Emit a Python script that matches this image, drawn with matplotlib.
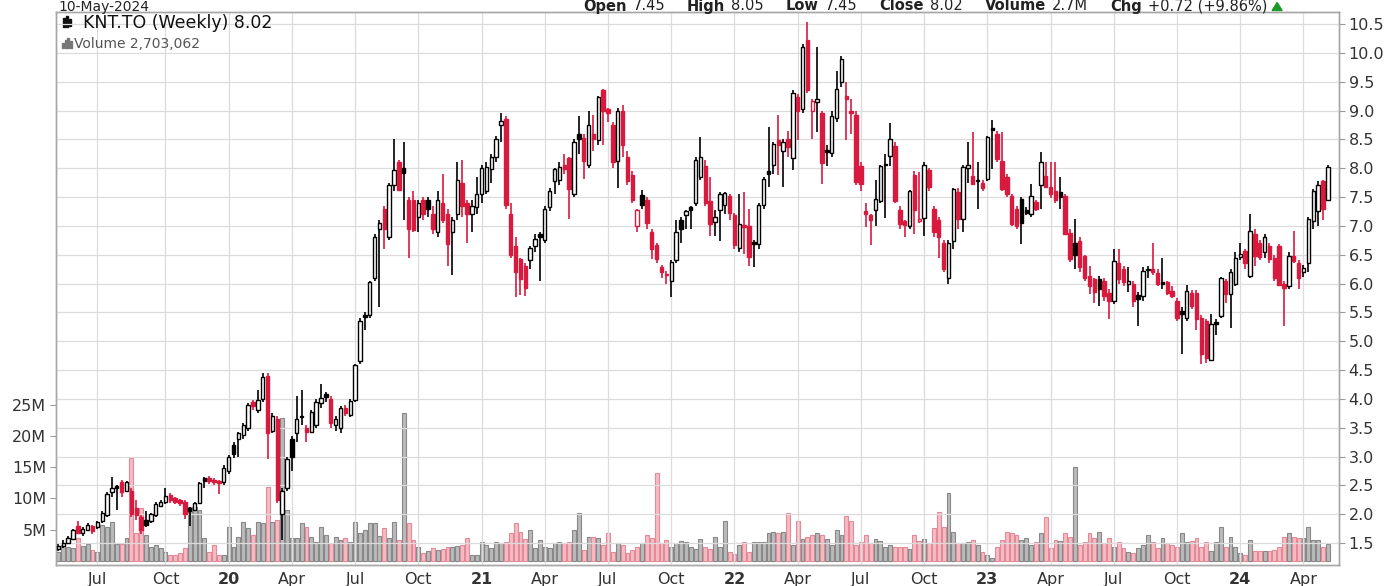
import matplotlib
matplotlib.use("Agg")
import matplotlib.pyplot as plt
from matplotlib.patches import Rectangle, Polygon
import pandas as pd

# weekly OHLC for KNT.TO, May 2019 - May 2024
opens = [
    1.40, 1.45, 1.50, 1.57, 1.80, 1.68, 1.72, 1.80, 1.78, 1.88, 1.98, 2.38, 2.48, 2.55, 2.40, 2.40, 2.10, 1.95, 1.90, 1.88, 1.98, 2.15, 2.22, 2.33, 2.28, 2.24,
    2.22, 2.10, 2.08, 2.20, 2.62, 2.63, 2.60, 2.58, 2.55, 2.75, 3.20, 3.30, 3.38, 3.50, 3.95, 3.80, 4.00, 4.40, 3.45, 3.65, 2.00, 2.45, 3.30, 3.40, 3.70,
    3.50, 3.43, 3.55, 3.92, 4.08, 4.00, 3.55, 3.50, 3.85, 3.72, 3.98, 4.65, 5.45, 5.45, 6.10, 6.95, 7.30, 6.80, 7.70, 8.10, 8.00, 7.45, 7.45, 7.15, 7.45, 7.45,
    7.20, 6.90, 7.40, 7.20, 6.90, 7.20, 7.75, 7.40, 7.20, 7.33, 7.55, 7.60, 7.98, 8.20, 8.75, 8.85, 7.20, 6.65, 6.42, 6.30, 6.40, 6.65, 6.85, 6.75, 7.33,
    7.78, 7.80, 8.05, 8.18, 7.55, 8.60, 8.52, 8.05, 8.60, 8.48, 9.35, 9.02, 8.74, 8.12, 9.00, 8.20, 7.88, 6.99, 7.53, 7.45, 6.89, 6.66, 6.28, 6.17, 6.05, 6.40,
    7.10, 7.18, 7.32, 7.40, 7.85, 8.03, 7.43, 7.07, 7.28, 7.37, 7.52, 7.19, 6.61, 7.02, 7.00, 6.72, 6.68, 7.37, 7.95, 8.06, 8.48, 8.30, 8.51, 8.18, 9.23, 9.02,
    10.23, 8.99, 9.15, 8.96, 8.32, 8.27, 8.87, 9.50, 9.25, 9.00, 8.93, 8.03, 7.25, 7.18, 7.28, 7.43, 8.08, 8.21, 8.39, 7.28, 7.08, 7.00, 7.88, 7.08, 7.13,
    7.96, 7.29, 7.10, 6.71, 6.10, 6.74, 7.58, 7.12, 8.00, 7.87, 7.80, 7.75, 7.81, 8.70, 8.60, 8.13, 7.84, 7.52, 7.29, 7.46, 7.27, 7.20, 7.41, 7.70, 7.87, 7.67,
    7.60, 7.58, 7.52, 6.88, 6.71, 6.74, 6.48, 6.13, 6.07, 6.07, 6.05, 5.84, 5.70, 6.36, 6.25, 6.00, 6.00, 5.80, 5.78, 6.24, 6.25, 6.19, 6.02, 6.02, 5.87,
    5.70, 5.52, 5.40, 5.84, 5.84, 5.41, 5.35, 4.68, 5.33, 5.44, 6.05, 5.82, 5.99, 6.46, 6.57, 6.13, 6.86, 6.71, 6.54, 6.65, 6.45, 6.65, 5.99, 5.96, 6.48, 6.36,
    6.20, 6.36, 7.09, 7.25, 7.78, 7.45,
]
highs = [
    1.48, 1.55, 1.62, 1.75, 1.88, 1.78, 1.85, 1.82, 1.88, 2.05, 2.38, 2.65, 2.50, 2.60, 2.58, 2.45, 2.25, 1.98, 2.05, 2.02, 2.22, 2.25, 2.45, 2.36, 2.30, 2.26,
    2.25, 2.12, 2.22, 2.55, 2.65, 2.66, 2.62, 2.60, 2.85, 3.02, 3.25, 3.42, 3.58, 3.92, 3.98, 4.15, 4.45, 4.45, 3.75, 3.70, 2.45, 3.00, 3.35, 4.05, 4.15,
    3.55, 3.80, 4.00, 4.26, 4.12, 4.05, 3.70, 3.88, 3.90, 4.00, 4.60, 5.40, 5.50, 6.05, 6.85, 7.10, 7.35, 7.75, 8.50, 8.15, 8.45, 7.50, 7.60, 7.45, 7.50, 7.50,
    7.35, 7.60, 7.90, 7.30, 7.15, 8.10, 8.15, 7.45, 7.45, 7.85, 8.05, 8.10, 8.25, 8.55, 8.95, 8.90, 7.40, 6.80, 6.45, 6.35, 6.65, 6.85, 6.90, 7.35, 7.65,
    8.00, 8.10, 8.25, 8.20, 8.50, 8.91, 8.60, 9.00, 8.92, 9.25, 9.38, 9.05, 8.80, 9.05, 9.10, 8.30, 7.95, 7.30, 7.62, 7.50, 6.95, 6.70, 6.32, 6.22, 6.40, 7.10,
    7.15, 7.28, 7.35, 8.20, 8.54, 8.15, 7.85, 7.28, 7.58, 7.58, 7.56, 7.22, 7.55, 7.58, 7.30, 6.75, 7.40, 7.85, 8.72, 8.45, 8.93, 8.50, 8.65, 9.35, 9.28, 10.15,
    10.53, 9.20, 10.10, 9.00, 8.40, 9.00, 9.69, 9.95, 9.50, 9.20, 9.00, 8.10, 7.40, 7.20, 7.79, 8.05, 8.24, 8.78, 8.45, 7.35, 7.10, 7.62, 7.95, 7.94, 8.10,
    8.00, 7.35, 7.15, 6.75, 6.75, 7.66, 7.65, 8.05, 8.45, 8.63, 8.10, 7.80, 8.55, 8.83, 8.65, 8.62, 7.90, 7.55, 7.35, 7.50, 7.32, 7.72, 7.45, 8.28, 8.10, 8.10,
    8.10, 7.85, 7.55, 6.95, 7.12, 6.80, 6.50, 6.30, 6.10, 6.13, 6.10, 5.90, 6.60, 6.60, 6.30, 6.28, 6.05, 5.85, 6.28, 6.30, 6.71, 6.25, 6.45, 6.05, 5.95,
    5.75, 5.60, 5.97, 5.88, 5.88, 5.45, 5.38, 5.47, 5.38, 6.12, 6.08, 6.25, 6.54, 6.71, 6.60, 7.20, 6.95, 6.75, 6.86, 6.70, 6.50, 6.68, 6.05, 6.55, 6.91, 6.40,
    6.32, 7.15, 7.64, 7.78, 7.80, 8.05,
]
lows = [
    1.37, 1.42, 1.48, 1.55, 1.65, 1.62, 1.70, 1.65, 1.75, 1.85, 1.95, 2.30, 2.08, 2.30, 2.38, 1.95, 1.90, 1.65, 1.78, 1.85, 1.95, 2.12, 2.18, 2.20, 2.18, 2.15,
    1.92, 1.80, 2.05, 2.18, 2.45, 2.52, 2.50, 2.35, 2.50, 2.70, 2.98, 3.00, 3.30, 3.45, 3.80, 3.75, 3.95, 2.95, 3.40, 2.20, 1.55, 2.40, 2.75, 3.25, 3.55,
    3.25, 3.40, 3.50, 3.85, 3.95, 3.50, 3.45, 3.40, 3.70, 3.68, 3.95, 4.60, 5.20, 5.40, 6.05, 5.60, 6.60, 6.75, 7.60, 7.60, 7.10, 6.45, 6.90, 6.90, 7.10, 7.15,
    6.85, 6.80, 7.05, 6.30, 6.15, 7.10, 7.15, 6.70, 6.90, 7.20, 7.40, 7.55, 7.75, 8.10, 8.45, 7.30, 6.45, 5.77, 5.80, 5.78, 6.25, 6.55, 6.05, 6.70, 7.25,
    7.55, 7.70, 7.90, 7.12, 7.50, 8.25, 7.82, 8.00, 8.30, 8.40, 8.40, 8.80, 8.00, 7.66, 8.20, 7.70, 7.40, 6.90, 7.30, 6.95, 6.43, 6.35, 6.10, 6.00, 5.77, 6.35,
    6.70, 6.95, 6.95, 7.35, 7.80, 7.35, 6.82, 6.82, 6.73, 7.20, 7.10, 6.60, 6.55, 6.52, 6.31, 6.28, 6.60, 7.30, 7.67, 7.90, 7.88, 7.67, 8.20, 7.97, 8.48, 8.95,
    9.30, 8.51, 8.63, 7.73, 8.03, 8.20, 8.80, 9.40, 8.48, 8.60, 7.70, 7.60, 6.98, 6.67, 7.00, 7.40, 7.13, 8.03, 7.40, 6.95, 6.80, 6.95, 6.85, 7.05, 6.82,
    7.60, 6.80, 6.45, 6.20, 5.99, 6.60, 6.95, 6.90, 7.75, 7.70, 7.30, 7.60, 7.78, 7.99, 8.10, 7.60, 7.50, 7.00, 6.95, 6.68, 7.18, 7.15, 7.25, 7.30, 7.65, 7.48,
    7.40, 7.30, 6.85, 6.38, 6.25, 6.20, 6.05, 5.81, 5.67, 5.61, 5.70, 5.38, 5.65, 6.00, 5.95, 5.86, 5.60, 5.26, 5.70, 6.10, 6.15, 5.95, 5.90, 5.80, 5.75,
    5.35, 4.77, 5.35, 5.55, 5.20, 4.60, 4.62, 4.65, 5.10, 5.40, 5.67, 5.23, 5.95, 6.40, 6.25, 6.10, 6.30, 6.40, 6.45, 6.35, 6.05, 5.96, 5.26, 5.90, 6.35, 5.90,
    6.12, 6.20, 6.95, 7.00, 7.10, 7.45,
]
closes = [
    1.45, 1.50, 1.59, 1.72, 1.68, 1.75, 1.82, 1.70, 1.86, 2.02, 2.35, 2.45, 2.46, 2.38, 2.55, 2.00, 1.98, 1.72, 1.82, 2.00, 2.18, 2.22, 2.32, 2.25, 2.22, 2.20,
    2.00, 2.05, 2.20, 2.54, 2.58, 2.57, 2.55, 2.54, 2.80, 3.00, 3.05, 3.40, 3.55, 3.90, 3.87, 3.98, 4.38, 3.40, 3.70, 2.25, 2.40, 2.95, 3.00, 3.65, 3.68,
    3.42, 3.77, 3.95, 4.02, 4.04, 3.58, 3.65, 3.85, 3.75, 3.97, 4.58, 5.35, 5.42, 6.02, 6.80, 7.05, 6.95, 7.70, 7.96, 7.62, 7.92, 6.95, 6.92, 7.40, 7.20, 7.30,
    6.95, 7.45, 7.10, 6.68, 7.10, 7.80, 7.35, 7.20, 7.35, 7.56, 8.00, 8.02, 8.20, 8.50, 8.82, 7.36, 6.50, 6.20, 6.07, 5.92, 6.62, 6.78, 6.80, 7.30, 7.60,
    7.98, 8.02, 7.98, 7.64, 8.45, 8.50, 8.12, 8.74, 8.50, 9.23, 9.00, 8.95, 8.10, 9.00, 8.40, 7.78, 7.45, 7.28, 7.36, 7.05, 6.60, 6.43, 6.20, 6.14, 6.37, 6.90,
    6.95, 7.25, 7.28, 8.15, 8.20, 7.40, 7.04, 7.16, 7.55, 7.57, 7.22, 6.67, 7.04, 6.98, 6.46, 6.68, 7.37, 7.82, 7.90, 8.42, 8.40, 8.45, 8.36, 9.30, 9.00, 10.10,
    9.35, 9.17, 9.20, 8.09, 8.28, 8.90, 9.38, 9.90, 9.20, 8.95, 7.76, 7.72, 7.20, 7.10, 7.46, 8.03, 8.05, 8.51, 7.43, 7.04, 7.02, 7.60, 7.28, 7.12, 8.06,
    7.67, 6.90, 6.80, 6.25, 6.70, 7.64, 7.12, 8.02, 8.05, 7.73, 7.77, 7.66, 8.54, 8.66, 8.16, 7.64, 7.55, 7.03, 7.00, 7.05, 7.22, 7.52, 7.29, 8.10, 7.67, 7.55,
    7.44, 7.50, 6.86, 6.42, 6.50, 6.28, 6.10, 5.95, 5.86, 5.90, 5.78, 5.70, 6.39, 6.07, 6.02, 6.05, 5.70, 5.74, 6.22, 6.23, 6.20, 5.99, 6.00, 5.84, 5.78,
    5.40, 5.48, 5.87, 5.61, 5.38, 4.77, 4.70, 5.29, 5.30, 6.10, 5.82, 6.20, 6.45, 6.52, 6.36, 6.91, 6.48, 6.46, 6.80, 6.42, 6.10, 5.98, 5.92, 6.48, 6.39, 6.10,
    6.27, 7.12, 7.60, 7.70, 7.30, 8.02,
]
# weekly volume, millions of shares
volumes = [
    1.5, 2.5, 2.2, 2.0, 3.6, 2.4, 2.7, 1.8, 1.4, 5.8, 5.5, 6.3, 2.7, 2.7, 3.6, 16.4, 4.4, 8.4, 4.1, 2.2, 2.5, 2.0, 1.5, 1.0, 1.0, 1.3,
    2.0, 8.7, 8.7, 8.2, 3.6, 1.5, 2.6, 1.0, 1.0, 5.5, 2.3, 3.9, 6.3, 5.2, 4.2, 6.3, 6.0, 11.9, 6.3, 6.5, 22.8, 8.2, 3.6, 3.6, 6.0,
    5.5, 3.9, 3.0, 5.5, 4.2, 2.8, 3.9, 3.4, 3.6, 3.0, 6.3, 4.4, 5.0, 6.0, 6.0, 4.0, 5.2, 3.6, 6.3, 3.3, 23.6, 6.0, 3.3, 2.3, 1.2, 1.6,
    2.0, 1.8, 1.9, 2.3, 2.3, 2.4, 2.5, 3.6, 1.0, 1.0, 3.1, 2.5, 2.0, 3.1, 2.8, 3.0, 4.4, 6.0, 4.6, 3.5, 4.9, 2.0, 3.4, 2.2, 2.0,
    2.8, 3.0, 2.8, 3.0, 4.9, 7.6, 1.8, 3.9, 3.9, 3.6, 2.6, 4.4, 1.4, 2.8, 2.5, 1.2, 1.8, 2.3, 2.8, 4.1, 3.6, 14.0, 2.8, 3.4, 2.3, 2.8,
    3.2, 3.0, 2.2, 1.9, 3.5, 2.2, 1.9, 3.8, 2.2, 6.4, 1.4, 1.1, 2.5, 3.0, 1.4, 3.0, 3.0, 3.0, 4.4, 4.7, 4.4, 4.7, 7.6, 2.5, 6.4, 3.5,
    3.8, 4.1, 4.4, 4.1, 3.5, 2.5, 5.0, 4.1, 7.2, 6.4, 2.5, 3.0, 4.1, 2.8, 3.5, 3.2, 2.2, 2.5, 2.2, 2.2, 2.2, 1.9, 4.1, 3.2, 3.5,
    2.8, 5.2, 7.9, 5.5, 10.8, 4.6, 2.8, 2.8, 3.1, 3.4, 2.6, 1.5, 1.0, 0.4, 2.2, 3.4, 4.6, 4.4, 4.2, 3.4, 3.6, 2.5, 3.1, 4.4, 7.1, 2.0,
    3.3, 3.2, 4.4, 3.8, 15.0, 2.6, 3.0, 4.4, 3.6, 4.7, 2.8, 3.6, 2.3, 3.0, 2.0, 1.5, 1.2, 2.0, 2.6, 4.1, 3.0, 2.0, 3.6, 2.8, 2.6,
    2.3, 4.4, 3.0, 3.2, 3.6, 2.3, 3.0, 1.6, 3.0, 5.5, 2.3, 3.9, 2.3, 1.2, 1.0, 3.4, 1.6, 1.6, 1.6, 1.6, 1.8, 2.3, 3.9, 4.4, 3.9, 3.6,
    3.6, 5.5, 3.4, 3.4, 2.3, 2.7,
]
vol_ticks = [5, 10, 15, 20, 25]
price_ticks = [1.5 + 0.5 * k for k in range(19)]

weeks = pd.date_range(end="2024-05-06", periods=len(closes), freq="W-MON")

RED = "#d91a3f"
W, H = 1391, 586
fig = plt.figure(figsize=(W / 100, H / 100), dpi=100)
ax = fig.add_axes([56 / W, 21 / H, (1339 - 56) / W, (565 - 12) / H])
axv = ax.twinx()
ax.set_zorder(axv.get_zorder() + 1)
ax.patch.set_visible(False)

x = list(range(len(closes)))
line_cols, faces, bottoms, heights, vfaces, vedges = [], [], [], [], [], []
for i in x:
    up = i == 0 or closes[i] >= closes[i - 1]
    c = "black" if up else RED
    line_cols.append(c)
    faces.append("white" if closes[i] > opens[i] else c)
    bottoms.append(min(opens[i], closes[i]))
    heights.append(max(abs(closes[i] - opens[i]), 0.025))
    vfaces.append("#bababa" if up else "#f4bcc2")
    vedges.append("#888888" if up else "#e3899a")

# volume
axv.bar(x, volumes, width=0.8, color=vfaces, edgecolor=vedges, linewidth=0.8)
axv.set_ylim(-0.64, 87.8)
axv.yaxis.tick_left()
axv.set_yticks(vol_ticks)
axv.set_yticklabels([f"{v}M" for v in vol_ticks])

# candles
ax.vlines(x, lows, highs, colors=line_cols, linewidth=1.2, zorder=2)
ax.bar(x, heights, bottom=bottoms, width=0.7, color=faces, edgecolor=line_cols,
       linewidth=1.0, zorder=3)
ax.set_ylim(1.119, 10.708)
ax.set_xlim(-0.5, 263.3)
ax.yaxis.tick_right()
ax.set_yticks(price_ticks)
ax.set_yticklabels([f"{p:.1f}" for p in price_ticks])

tick_pos, tick_lab = [], []
for i, d in enumerate(weeks):
    if d.month in (1, 4, 7, 10) and (i == 0 or weeks[i - 1].month != d.month):
        tick_pos.append(i)
        tick_lab.append(d.strftime("%y") if d.month == 1 else d.strftime("%b"))
ax.set_xticks(tick_pos)
ax.set_xticklabels(tick_lab)
for lab in ax.get_xticklabels():
    if lab.get_text().isdigit():
        lab.set_fontweight("bold")

ax.grid(True, color="#dcdcdc", linewidth=0.9, zorder=0)
ax.set_axisbelow(True)
for a in (ax, axv):
    a.tick_params(labelsize=11.5, colors="#333333", length=4, width=0.8,
                  color="#999999", pad=3)
    for s in a.spines.values():
        s.set_color("#a6a6a6")
        s.set_linewidth(1.0)
ax.tick_params(axis="x", length=0, pad=5)

# header line above the frame
base = 1 - 10.5 / H
fig.text(58 / W, base, "10-May-2024", fontsize=10, color="#222222", va="baseline")
parts = [("Open", True), ("7.45", False), ("High", True), ("8.05", False),
         ("Low", True), ("7.45", False), ("Close", True), ("8.02", False),
         ("Volume", True), ("2.7M", False), ("Chg", True), ("+0.72 (+9.86%)", False)]
fig.canvas.draw()
r = fig.canvas.get_renderer()
xp = 583
for k, (txt, bold) in enumerate(parts):
    t = fig.text(xp / W, base, txt, fontsize=10.5, va="baseline", color="#222222",
                 fontweight="bold" if bold else "normal")
    xp = t.get_window_extent(r).x1 + (6 if bold else 22)
xp -= 17
fig.add_artist(Polygon([[xp / W, base], [(xp + 10) / W, base], [(xp + 5) / W, base + 8 / H]],
                       closed=True, transform=fig.transFigure, color="#1a9a2a"))

# legend inside the plot
fig.text(83 / W, 1 - 28 / H, "KNT.TO (Weekly) 8.02", fontsize=12.5, color="#111111", va="baseline")
fig.text(74 / W, 1 - 48 / H, "Volume 2,703,062", fontsize=10, color="#555555", va="baseline")
for k, (y0, hh) in enumerate([(18, 9), (16, 11), (19, 7)]):
    fig.add_artist(Rectangle(((63 + 3 * k) / W, 1 - (y0 + hh) / H), 2 / W, hh / H,
                             transform=fig.transFigure, color="#111111"))
for k, hh in enumerate([5, 8, 10, 7]):
    fig.add_artist(Rectangle(((62 + 2.5 * k) / W, 1 - 48 / H), 2 / W, hh / H,
                             transform=fig.transFigure, color="#777777"))

fig.savefig("out.png", dpi=100)
